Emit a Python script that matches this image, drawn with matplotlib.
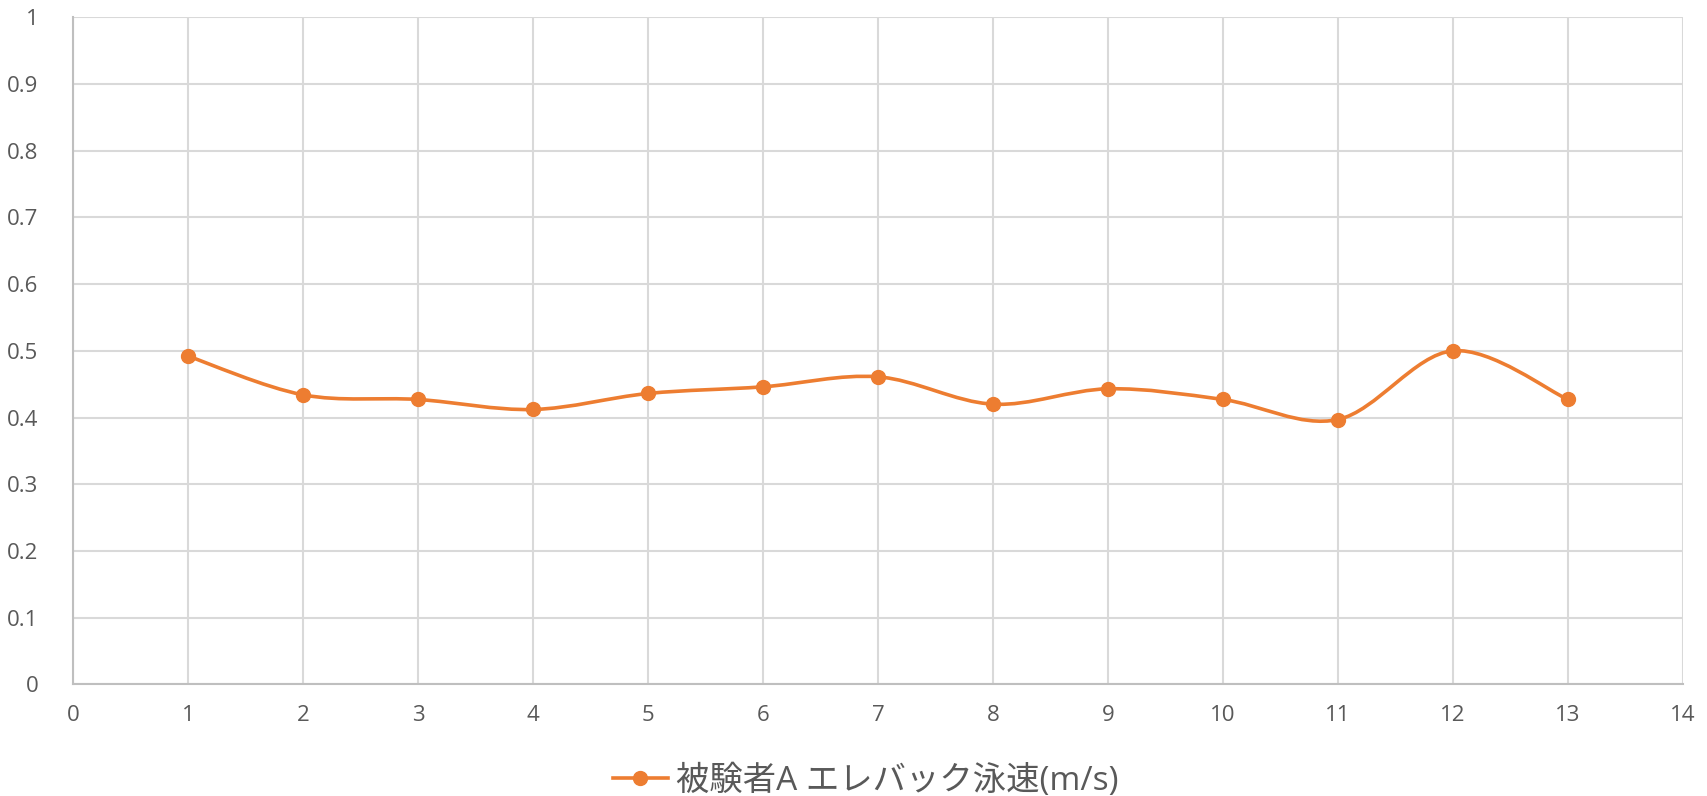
import matplotlib
matplotlib.use("Agg")
import matplotlib.pyplot as plt
import numpy as np
from matplotlib.path import Path
from matplotlib.patches import PathPatch
from matplotlib.lines import Line2D

plt.rcParams['font.family'] = ['Open Sans', 'Noto Sans CJK JP', 'DejaVu Sans']

# swim speed per trial
trial = [1, 2, 3, 4, 5, 6, 7, 8, 9, 10, 11, 12, 13]
speed = [0.492, 0.434, 0.427, 0.412, 0.436, 0.446, 0.461, 0.420, 0.443, 0.427, 0.397, 0.500, 0.427]
series_name = "被験者A エレバック泳速(m/s)"

x_ticks = list(range(0, 15))
y_ticks = [0, 0.1, 0.2, 0.3, 0.4, 0.5, 0.6, 0.7, 0.8, 0.9, 1]
y_tick_labels = ["0", "0.1", "0.2", "0.3", "0.4", "0.5", "0.6", "0.7", "0.8", "0.9", "1"]

orange = "#ED7D31"
grid_c = "#D9D9D9"
text_c = "#595959"


def smooth_path(xs, ys):
    # spreadsheet-style smoothed line: cubic bezier through every point
    pts = np.column_stack([xs, ys]).astype(float)
    n = len(pts)
    verts = [pts[0]]
    codes = [Path.MOVETO]
    for i in range(n - 1):
        p0 = pts[max(i - 1, 0)]
        p1 = pts[i]
        p2 = pts[i + 1]
        p3 = pts[min(i + 2, n - 1)]
        c1 = p1 + (p2 - p0) / 6.0
        c2 = p2 - (p3 - p1) / 6.0
        verts += [c1, c2, p2]
        codes += [Path.CURVE4] * 3
    return Path(verts, codes)


fig = plt.figure(figsize=(17.07, 7.96), dpi=100)
ax = fig.add_axes([0.0428, 0.1403, 0.9431, 0.8380])

ax.set_xlim(0, 14)
ax.set_ylim(0, 1)
ax.set_xticks(x_ticks)
ax.set_yticks(y_ticks)
ax.set_yticklabels(y_tick_labels)
ax.grid(True, color=grid_c, linewidth=1.5)
ax.set_axisbelow(True)

for side in ["top", "right"]:
    ax.spines[side].set_visible(False)
for side in ["left", "bottom"]:
    ax.spines[side].set_color("#BFBFBF")
    ax.spines[side].set_linewidth(1.5)

ax.tick_params(axis="both", length=0, labelsize=16, labelcolor=text_c)
ax.tick_params(axis="y", pad=25)
ax.tick_params(axis="x", pad=15)

ax.add_patch(PathPatch(smooth_path(trial, speed), facecolor="none",
                       edgecolor=orange, linewidth=2.6, zorder=3))
ax.plot(trial, speed, linestyle="none", marker="o", markersize=10,
        color=orange, zorder=4)

handle = Line2D([], [], color=orange, linewidth=2.6, marker="o", markersize=10)
fig.legend([handle], [series_name], loc="center", bbox_to_anchor=(0.507, 0.019),
           frameon=False, fontsize=24, labelcolor=text_c, handlelength=1.65,
           handletextpad=0.25)

fig.savefig("out.png", dpi=100)
